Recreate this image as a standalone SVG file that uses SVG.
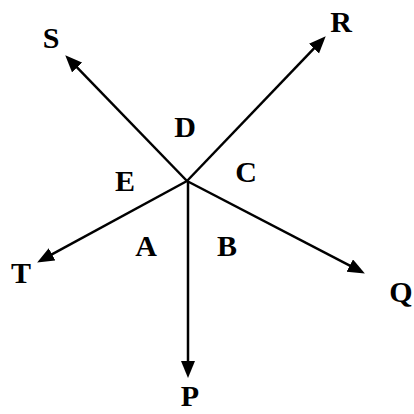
<svg xmlns="http://www.w3.org/2000/svg" width="414" height="414" viewBox="0 0 414 414">
<style>
.ray{stroke:#000;stroke-width:2.5;fill:none;marker-end:url(#ah)}
.lbl{font-family:"Liberation Serif","Times New Roman",serif;font-weight:bold;font-size:30px;fill:#000;text-anchor:middle}
</style>
<defs>
<marker id="ah" markerUnits="userSpaceOnUse" markerWidth="18" markerHeight="15" refX="6" refY="7" orient="auto">
<path d="M0,0 L17,7 L0,14 z" fill="#000"/>
</marker>
</defs>
<rect width="414" height="414" fill="#fff"/>
<g id="connectors">
<line class="ray" x1="187" y1="181" x2="72.9" y2="63.2"/>
<line class="ray" x1="187" y1="181" x2="318.1" y2="44.2"/>
<line class="ray" x1="187" y1="181" x2="355.1" y2="268.4"/>
<line class="ray" x1="187" y1="181" x2="46.8" y2="257.2"/>
<line class="ray" x1="188" y1="181" x2="188" y2="367"/>
</g>
<g id="S"><text class="lbl" x="51" y="48">S</text></g>
<g id="R"><text class="lbl" x="341" y="32">R</text></g>
<g id="Q"><text class="lbl" x="401" y="302">Q</text></g>
<g id="P"><text class="lbl" x="190" y="406">P</text></g>
<g id="T"><text class="lbl" x="21" y="283">T</text></g>
<g id="D"><text class="lbl" x="185" y="137">D</text></g>
<g id="C"><text class="lbl" x="246" y="182">C</text></g>
<g id="E"><text class="lbl" x="125" y="191">E</text></g>
<g id="A"><text class="lbl" x="146" y="256">A</text></g>
<g id="B"><text class="lbl" x="227" y="256">B</text></g>
</svg>
